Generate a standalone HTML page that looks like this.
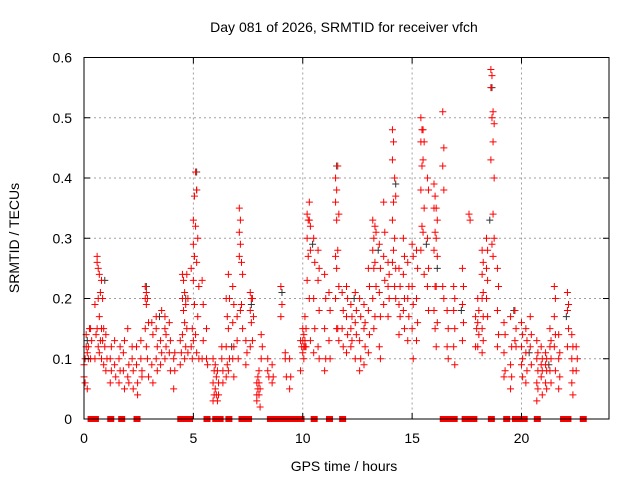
<!DOCTYPE html>
<html><head><meta charset="utf-8"><style>
body{margin:0;background:#fff;}
svg{display:block;font-family:"Liberation Sans",sans-serif;}
</style></head><body>
<svg id="chart" width="640" height="480" viewBox="0 0 640 480">
<rect width="640" height="480" fill="#fff"/>
<text x="344" y="32" font-size="14" text-anchor="middle" fill="#000">Day 081 of 2026, SRMTID for receiver vfch</text>
<g id="grid"></g>
<g id="marks"></g>
<rect x="84" y="57.5" width="525" height="361.5" fill="none" stroke="#000" stroke-width="1"/>
<g id="ticks"></g>
<text x="344" y="471" font-size="14" text-anchor="middle">GPS time / hours</text>
<text transform="translate(19,238) rotate(-90)" font-size="14" text-anchor="middle">SRMTID / TECUs</text>
</svg>
<script>
const xTicks = [0,5,10,15,20];
const yTicks = [0,0.1,0.2,0.3,0.4,0.5,0.6];
const yTickLabels = ["0","0.1","0.2","0.3","0.4","0.5","0.6"];
const hours = [0.0,0.1,0.2,0.3,0.5,0.6,0.7,0.8,0.9,1.0,1.2,1.4,1.6,1.8,2.0,2.2,2.4,2.6,2.8,2.9,3.1,3.3,3.5,3.7,3.9,4.1,4.4,4.5,4.6,4.7,4.9,5.0,5.1,5.2,5.4,5.6,5.9,6.0,6.1,6.3,6.5,6.6,6.8,7.0,7.1,7.2,7.4,7.6,7.7,7.9,8.0,8.1,8.4,8.6,9.0,9.2,9.4,9.9,10.0,10.1,10.2,10.3,10.5,10.7,11.0,11.2,11.5,11.6,11.8,12.0,12.2,12.4,12.6,12.8,13.0,13.2,13.3,13.5,13.7,13.9,14.1,14.2,14.4,14.6,14.8,15.0,15.2,15.4,15.5,15.7,16.0,16.1,16.4,16.6,16.9,17.3,17.6,17.9,18.0,18.2,18.4,18.6,18.7,18.9,19.2,19.5,19.7,20.0,20.2,20.4,20.7,20.9,21.1,21.3,21.5,21.7,22.1,22.3,22.5];
const srmtid = [[.09,.06,.07,.1],[.12,.11,.14,.05],[.12,.15,.1],[.15,.13,.1],[.19,.14,.1],[.27,.25,.26,.2,.15,.12],[.24,.21,.17,.13,.11],[.23,.2,.15,.13,.1],[.15,.12,.09],[.14,.1,.08],[.1,.08,.06,.12],[.09,.07,.13],[.1,.12,.06,.08],[.08,.05,.11,.13],[.15,.09,.07,.06],[.1,.08,.12,.05],[.09,.06,.12,.04],[.1,.07,.13,.08],[.2,.21,.22,.19,.15,.12],[.2,.16,.1,.07],[.16,.14,.09,.06],[.15,.12,.1,.08,.17],[.13,.11,.09,.18],[.15,.12,.17,.14,.1],[.16,.13,.11,.08],[.1,.08,.05,.11],[.09,.11,.13],[.14,.18,.2,.23,.24],[.21,.19,.16,.12,.1],[.24,.2,.15,.11],[.25,.15,.12,.1],[.33,.37,.29,.27,.23,.19,.13],[.41,.38,.32,.26,.14,.11],[.3,.22,.17,.1],[.23,.13,.1,.19],[.1,.09,.15],[.1,.08,.06,.04,.03],[.09,.07,.05,.04],[.08,.06,.03,.04],[.1,.08,.12,.06],[.2,.17,.12,.09,.07],[.24,.2,.15,.1,.08],[.22,.19,.16,.12,.1,.07],[.13,.1,.17],[.35,.33,.31,.29,.27,.18],[.26,.24,.19,.15],[.13,.11,.09],[.21,.2,.18,.16,.12],[.2,.17,.13],[.06,.05,.04,.07,.03],[.06,.05,.08,.02,.04],[.14,.12,.1],[.08,.07,.1],[.09,.07,.06],[.22,.19,.17],[.11,.07,.1],[.1,.07,.05],[.13,.12,.08],[.15,.14,.13,.12,.11,.1],[.17,.15,.13,.12,.12],[.34,.33,.3,.27,.23],[.33,.32,.36,.28,.2,.13],[.3,.26,.2,.15,.11],[.28,.25,.23,.18,.12,.1],[.24,.2,.15,.1,.08],[.21,.18,.13,.1],[.4,.38,.36,.33,.27,.25,.2,.15],[.42,.34,.28,.22,.15,.13],[.21,.18,.15,.12],[.22,.2,.17,.14,.11],[.19,.17,.15,.13,.12],[.21,.18,.16,.14,.1],[.2,.17,.13,.1,.08],[.19,.16,.15,.12,.09],[.25,.22,.18,.14,.11],[.33,.3,.28,.25,.2,.15],[.32,.31,.26,.22,.17],[.29,.25,.21,.17,.12,.1],[.36,.31,.27,.23,.19],[.26,.24,.22,.2,.17],[.48,.46,.43,.36,.33,.28,.26],[.4,.37,.3,.25,.22,.2],[.25,.22,.19,.17,.14],[.3,.27,.24,.2,.18,.15],[.26,.22,.2,.17,.13],[.29,.27,.22,.19,.15,.1],[.28,.25,.2,.16,.13],[.5,.48,.46,.42,.38,.32,.28],[.48,.46,.43,.35,.31,.24],[.4,.38,.3,.25,.22,.18],[.39,.37,.35,.31,.28,.22,.18,.15],[.35,.33,.3,.27,.22,.16,.12],[.51,.45,.42,.38,.22,.2],[.18,.15,.12,.1],[.22,.2,.18,.15,.12,.09],[.25,.22,.19,.16,.13],[.34,.33],[.17,.15,.12],[.2,.18,.16,.14,.12],[.28,.26,.24,.21,.2,.17,.15,.13,.11],[.3,.28,.25,.23,.2,.17],[.58,.57,.55,.5,.43,.29],[.51,.49,.46,.4,.34,.3,.27],[.25,.22,.18,.14,.12],[.16,.14,.11,.08,.07],[.17,.12,.09,.07,.05],[.18,.15,.13,.12],[.16,.14,.12,.1,.09,.07],[.15,.13,.11,.08,.06],[.17,.14,.12,.09],[.13,.11,.1,.08,.06,.05,.03],[.12,.1,.09,.08,.07,.04],[.11,.1,.09,.08,.06,.05],[.15,.13,.12,.1,.08,.06],[.22,.2,.17,.14,.12,.08],[.14,.11,.1,.07,.05],[.21,.19,.18,.15,.12],[.14,.12,.1,.08,.06,.04],[.12,.1,.08]];
const zeroHours = [0.3,0.5,1.2,1.7,2.4,4.4,4.6,4.8,5.6,6.0,6.2,6.6,7.2,7.5,8.5,8.7,8.9,9.1,9.3,9.5,9.7,9.9,10.5,11.2,11.8,16.4,16.7,16.9,17.4,17.6,17.8,18.6,19.3,19.7,19.9,20.1,20.7,21.9,22.1,22.8];
const blackHours = [0.1,0.9,2.8,3.4,4.6,5.1,5.1,6.7,7.6,9.0,10.4,11.5,12.3,13.4,14.2,15.6,16.1,17.2,18.5,18.6,19.6,20.3,21.2,22.0];
const blackVals = [.13,.23,.22,.17,.2,.41,.38,.12,.19,.21,.29,.42,.2,.28,.39,.29,.25,.18,.33,.55,.18,.11,.09,.17];

const X0=84,X1=609,Y0=419,Y1=57.5,XMAX=24,YMAX=0.6;
const xs=h=>X0+(X1-X0)*h/XMAX;
const ys=v=>Y0-(Y0-Y1)*v/YMAX;
const NS="http://www.w3.org/2000/svg";
const grid=document.getElementById('grid'),marks=document.getElementById('marks'),ticks=document.getElementById('ticks');
function mk(tag,attrs,parent){const e=document.createElementNS(NS,tag);for(const k in attrs)e.setAttribute(k,attrs[k]);parent.appendChild(e);return e;}
xTicks.forEach(t=>{
  const x=xs(t);
  if(t>0&&t<XMAX){const g=mk('line',{x1:x,y1:Y1,x2:x,y2:Y0,stroke:'#a0a0a0','stroke-dasharray':'2,3'},grid);
  
  }
  const l=mk('text',{x:x,y:443,'font-size':14,'text-anchor':'middle'},ticks);l.textContent=t;
  
  
  mk('line',{x1:x,y1:Y0,x2:x,y2:Y0-6,stroke:'#000'},ticks);
  mk('line',{x1:x,y1:Y1,x2:x,y2:Y1+6,stroke:'#000'},ticks);
});
yTicks.forEach((t,i)=>{
  const y=ys(t);
  if(t>0&&t<YMAX){const g=mk('line',{x1:X0,y1:y,x2:X1,y2:y,stroke:'#a0a0a0','stroke-dasharray':'2,3'},grid);
  
  }
  const l=mk('text',{x:72,y:y+5,'font-size':14,'text-anchor':'end'},ticks);l.textContent=yTickLabels[i];
  
  
  mk('line',{x1:X0,y1:y,x2:X0+6,y2:y,stroke:'#000'},ticks);
  mk('line',{x1:X1,y1:y,x2:X1-6,y2:y,stroke:'#000'},ticks);
});
function plus(h,v,col){
  const x=xs(h),y=ys(v);
  const p=mk('path',{d:`M${x-3.5},${y}H${x+3.5}M${x},${y-3.5}V${y+3.5}`,stroke:col,'stroke-width':1,fill:'none'},marks);
  return p;
}
blackHours.forEach((h,i)=>{const p=plus(h+0.05,blackVals[i],'#333');
  
  });
hours.forEach((h,i)=>{srmtid[i].forEach((v,j)=>{const p=plus(h+(j%2)*0.05,v,'#f00');
  
  });});
zeroHours.forEach(h=>{const p=mk('rect',{x:xs(h)-3,y:Y0-3,width:7,height:6,fill:'#f00'},marks);
  
  });
</script>
</body></html>
